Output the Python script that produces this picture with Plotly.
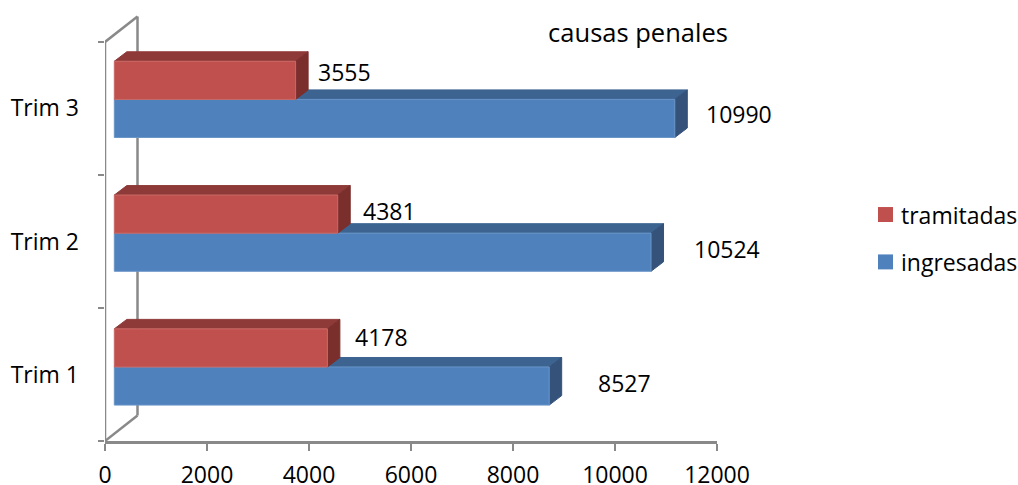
import plotly.graph_objects as go

categories = ["Trim 1", "Trim 2", "Trim 3"]
ingresadas = [8527, 10524, 10990]
tramitadas = [4178, 4381, 3555]
x_ticks = [0, 2000, 4000, 6000, 8000, 10000, 12000]
title_text = "causas penales"
legend_names = ["tramitadas", "ingresadas"]

PX_X = 612 / 12000      # pixels per x unit
PX_Y = 133.33           # pixels per category
PLOT_H = 440
x0 = 9.3 / PX_X         # wall-to-bar gap in x units
dx = 12.5 / PX_X        # depth of bars, x units
dy = 9.5 / PX_Y         # depth of bars, y units
wall_dx = 32.5 / PX_X
wall_dy = 25.5 / PX_Y
BAR = 38.2 / PX_Y       # bar thickness, y units
BOTTOM = 36 / PX_Y      # first bar bottom inside each category
STEP = 134.1 / PX_Y     # spacing of bar groups

RED = ("#C0504D", "#8E3A38", "#7A2F2D", "#C96A67")
BLUE = ("#4F81BD", "#3D6491", "#34527A", "#6A95C8")
AXIS = "#898989"
FONT = "Open Sans"
SIZE = 23
TEXT = "#000000"

fig = go.Figure()


def poly(xs, ys, color, edge=None, name=None):
    fig.add_trace(go.Scatter(
        x=xs, y=ys, mode="lines", fill="toself", fillcolor=color, name=name,
        line=dict(color=edge or color, width=1), hoverinfo="skip", showlegend=False))


def wall(xs, ys):
    fig.add_trace(go.Scatter(
        x=xs, y=ys, mode="lines", line=dict(color=AXIS, width=2.5),
        hoverinfo="skip", showlegend=False, cliponaxis=False))


n = len(categories)
wall([wall_dx, wall_dx], [wall_dy, n + wall_dy])
wall([0, wall_dx], [0, wall_dy])
wall([0, wall_dx], [n, n + wall_dy])
wall([0, 0], [0, n])


def bar(value, bottom, colors, name):
    left = x0
    right = x0 + value
    top = bottom + BAR
    poly([left, left + dx, right + dx, right, left], [top, top + dy, top + dy, top, top], colors[1])
    poly([right, right + dx, right + dx, right, right], [bottom, bottom + dy, top + dy, top, bottom], colors[2])
    poly([left, right, right, left, left], [bottom, bottom, top, top, bottom], colors[0], colors[3], name)


for i in range(n):
    base = i * STEP + BOTTOM
    bar(ingresadas[i], base, BLUE, legend_names[1])
    bar(tramitadas[i], base + BAR, RED, legend_names[0])

# data labels: offset of label centre from the bar's front end / centre, in pixels
red_off = [54.6, 51.3, 48.4]
blue_off = [75, 76, 64]
red_up = [11, 3, 8]
blue_up = [3, 3, 4.5]
label_font = dict(family=FONT, size=SIZE, color=TEXT)
for i in range(n):
    base = i * STEP + BOTTOM
    fig.add_annotation(x=x0 + tramitadas[i], y=base + 1.5 * BAR, xref="x", yref="y",
                       text=str(tramitadas[i]), showarrow=False, xshift=red_off[i], yshift=red_up[i],
                       font=label_font)
    fig.add_annotation(x=x0 + ingresadas[i], y=base + 0.5 * BAR, xref="x", yref="y",
                       text=str(ingresadas[i]), showarrow=False, xshift=blue_off[i], yshift=blue_up[i],
                       font=label_font)

# legend
W, H = 1018, 485
for name, color, cy in zip(legend_names, [RED[0], BLUE[0]], [214.5, 262]):
    fig.add_shape(type="rect", xref="paper", yref="paper", layer="above",
                  x0=(878 - 105) / 612, x1=(893 - 105) / 612,
                  y0=(441.5 - cy - 7.5) / PLOT_H, y1=(441.5 - cy + 7.5) / PLOT_H,
                  fillcolor=color, line=dict(width=0))
    fig.add_annotation(xref="paper", yref="paper", x=(899 - 105) / 612, y=(441.5 - cy) / PLOT_H,
                       xanchor="left", yanchor="middle", text=name, showarrow=False,
                       font=label_font)

fig.update_layout(
    width=W, height=H,
    margin=dict(l=105, r=301, t=1.5, b=43.5),
    paper_bgcolor="white", plot_bgcolor="white",
    font=label_font,
    showlegend=False,
    title=dict(text=title_text, x=638 / W, y=1 - 33 / H, xanchor="center", yanchor="middle",
               font=dict(family=FONT, size=25.5, color=TEXT)),
    xaxis=dict(range=[0, 12000], tickvals=x_ticks, ticktext=[str(t) for t in x_ticks],
               automargin=False,
               ticks="outside", ticklen=7, tickwidth=2,
               tickcolor=AXIS, showgrid=False, zeroline=False, showline=True, linecolor=AXIS, linewidth=2.5,
               ticklabelstandoff=5, tickfont=label_font),
    yaxis=dict(range=[0, PLOT_H / PX_Y], tickvals=[i + 0.5 for i in range(n)], ticktext=categories,
               automargin=False,
               ticks="", showgrid=False, zeroline=False, showline=False, ticklabelstandoff=25,
               minor=dict(tick0=0, dtick=1, ticks="outside", ticklen=6, tickcolor=AXIS, tickwidth=2, showgrid=False),
               tickfont=label_font),
)

fig.write_html("out.html", config={"displayModeBar": False},
               post_script="document.body.style.margin='0';document.body.style.overflow='hidden';")
